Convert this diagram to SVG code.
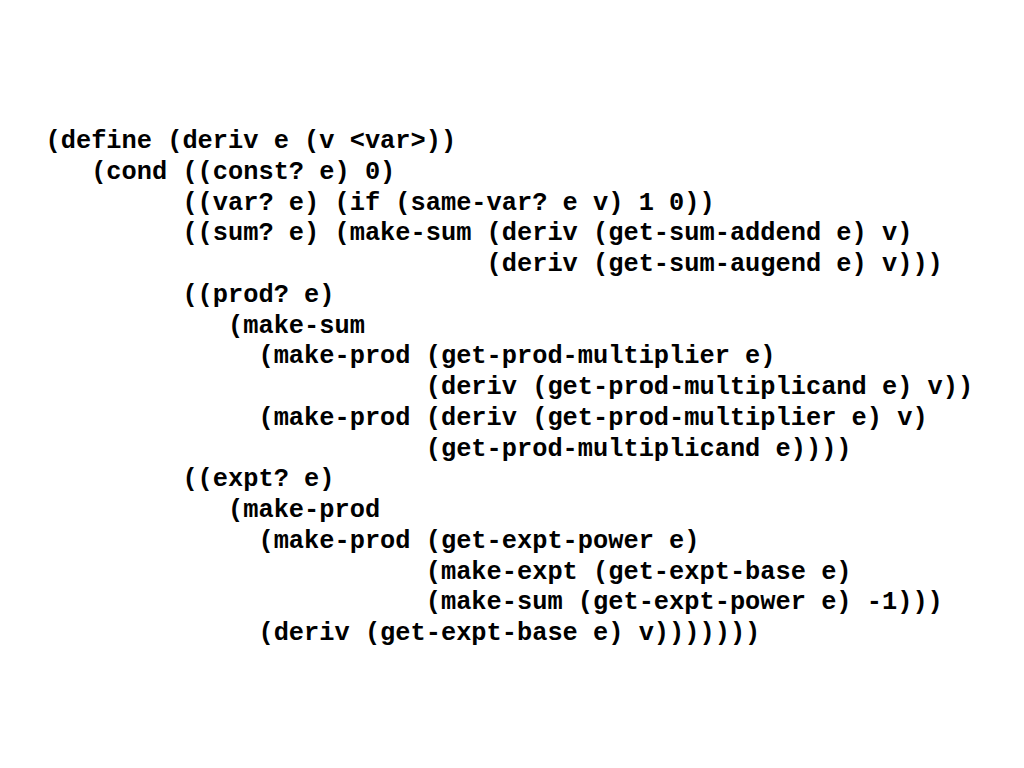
<svg xmlns="http://www.w3.org/2000/svg" width="1024" height="768" viewBox="0 0 1024 768">
<style>
text{font-family:"Liberation Mono","Courier New",monospace;font-weight:bold;font-size:25.35px;fill:#000;white-space:pre}
</style>
<rect width="1024" height="768" fill="#fff"/>
<g id="code" xml:space="preserve">
<text x="45.5" y="148">(define (deriv e (v &lt;var&gt;))</text>
<text x="45.5" y="178.75">   (cond ((const? e) 0)</text>
<text x="45.5" y="209.5">         ((var? e) (if (same-var? e v) 1 0))</text>
<text x="45.5" y="240.25">         ((sum? e) (make-sum (deriv (get-sum-addend e) v)</text>
<text x="45.5" y="271">                             (deriv (get-sum-augend e) v)))</text>
<text x="45.5" y="301.75">         ((prod? e)</text>
<text x="45.5" y="332.5">            (make-sum</text>
<text x="45.5" y="363.25">              (make-prod (get-prod-multiplier e)</text>
<text x="45.5" y="394">                         (deriv (get-prod-multiplicand e) v))</text>
<text x="45.5" y="424.75">              (make-prod (deriv (get-prod-multiplier e) v)</text>
<text x="45.5" y="455.5">                         (get-prod-multiplicand e))))</text>
<text x="45.5" y="486.25">         ((expt? e)</text>
<text x="45.5" y="517">            (make-prod</text>
<text x="45.5" y="547.75">              (make-prod (get-expt-power e)</text>
<text x="45.5" y="578.5">                         (make-expt (get-expt-base e)</text>
<text x="45.5" y="609.25">                         (make-sum (get-expt-power e) -1)))</text>
<text x="45.5" y="640">              (deriv (get-expt-base e) v)))))))</text>
</g>
</svg>
